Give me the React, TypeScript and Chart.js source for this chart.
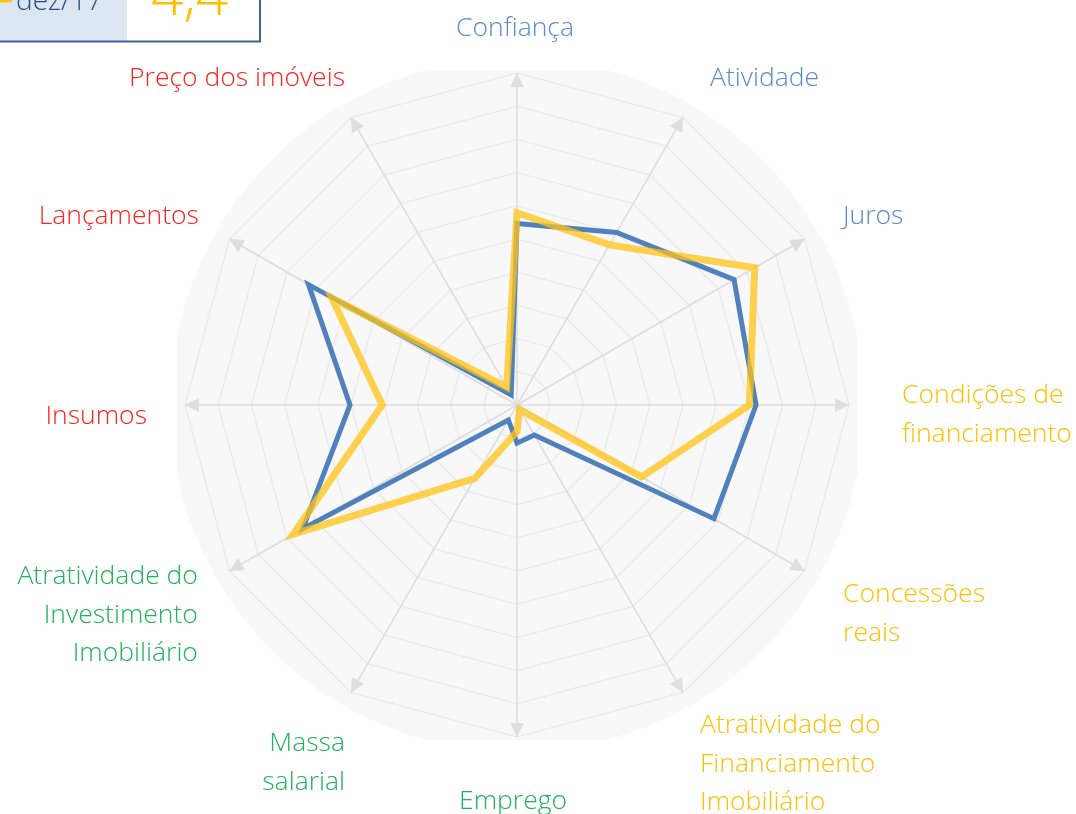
import React, { useEffect, useRef } from "react";
import { Chart, registerables } from "chart.js";

Chart.register(...registerables);

// ---- data ----
const CATEGORIES: string[][] = [
  ["Confiança"],
  ["Atividade"],
  ["Juros"],
  ["Condições de", "financiamento"],
  ["Concessões", "reais"],
  ["Atratividade do", "Financiamento", "Imobiliário"],
  ["Emprego"],
  ["Massa", "salarial"],
  ["Atratividade do", "Investimento", "Imobiliário"],
  ["Insumos"],
  ["Lançamentos"],
  ["Preço dos imóveis"],
];
const CATEGORY_GROUP: string[] = [
  "mercado", "mercado", "mercado",
  "credito", "credito", "credito",
  "renda", "renda", "renda",
  "custos", "custos", "custos",
];
const SERIES_PREV_LABEL = "dez/16";
const SERIES_PREV: number[] = [5.47, 6.0, 7.55, 7.2, 6.85, 1.04, 1.15, 0.52, 7.45, 5.03, 7.25, 0.35];
const SERIES_CURR_LABEL = "dez/17";
const SERIES_CURR: number[] = [5.79, 5.57, 8.27, 7.0, 4.33, 0.16, 0.8, 2.55, 7.78, 4.06, 6.44, 0.62];
const CURR_INDEX_VALUE = "4,4";
const SCALE_MAX = 10;
const SCALE_STEP = 1;

// ---- styles ----
const GROUP_COLORS: Record<string, string> = {
  mercado: "#5b8bc8",
  credito: "#ffc000",
  renda: "#1fb35a",
  custos: "#ff2020",
};
const BLUE = "#4f81bd";
const YELLOW = "rgba(255,195,20,0.75)";
const FONT = "'Open Sans', 'Noto Sans', sans-serif";

// label placement nudges (px) relative to a point 380px from the centre along each axis
const LABEL_DIST = 380;
const LABEL_NUDGE: [number, number][] = [
  [-2, 3], [3, 3], [-3, 1], [5, 10], [-3, 19], [-7, 30],
  [-4, 16], [18, 29], [10, 20], [10, 11], [11, 1], [18, 3],
];

const backgroundPlugin = {
  id: "radarBackground",
  beforeDraw(chart: any) {
    const s = chart.scales.r;
    const ctx = chart.ctx;
    const cx = s.xCenter, cy = s.yCenter, R = s.drawingArea;
    ctx.save();
    ctx.beginPath();
    ctx.rect(cx - R - 8, cy - R - 3, 2 * R + 16, 2 * R + 6);
    ctx.clip();
    ctx.beginPath();
    ctx.arc(cx, cy, R + 15, 0, Math.PI * 2);
    ctx.fillStyle = "#f8f8f8";
    ctx.fill();
    ctx.restore();
  },
};

const arrowPlugin = {
  id: "axisArrows",
  beforeDatasetsDraw(chart: any) {
    const s = chart.scales.r;
    const ctx = chart.ctx;
    const R = s.drawingArea;
    const n = chart.data.labels.length;
    ctx.save();
    ctx.fillStyle = "#dedede";
    for (let i = 0; i < n; i++) {
      const a = s.getIndexAngle(i) - Math.PI / 2;
      const tip = s.getPointPosition(i, R);
      const bx = tip.x - Math.cos(a) * 14;
      const by = tip.y - Math.sin(a) * 14;
      const px = -Math.sin(a) * 7;
      const py = Math.cos(a) * 7;
      ctx.beginPath();
      ctx.moveTo(tip.x, tip.y);
      ctx.lineTo(bx + px, by + py);
      ctx.lineTo(bx - px, by - py);
      ctx.closePath();
      ctx.fill();
    }
    ctx.restore();
  },
};

const labelPlugin = {
  id: "axisLabels",
  afterDraw(chart: any) {
    const s = chart.scales.r;
    const ctx = chart.ctx;
    const labels: string[][] = chart.data.labels;
    const lineH = 38.5;
    ctx.save();
    ctx.font = `300 26.5px ${FONT}`;
    ctx.textBaseline = "middle";
    labels.forEach((lines, i) => {
      const p = s.getPointPosition(i, LABEL_DIST);
      const a = s.getIndexAngle(i);
      const sx = Math.sin(a);
      const x = p.x + LABEL_NUDGE[i][0];
      const yMid = p.y + LABEL_NUDGE[i][1];
      ctx.textAlign = sx > 0.1 ? "left" : sx < -0.1 ? "right" : "center";
      ctx.fillStyle = GROUP_COLORS[CATEGORY_GROUP[i]];
      const top = yMid - ((lines.length - 1) * lineH) / 2;
      lines.forEach((ln, k) => ctx.fillText(ln, x, top + k * lineH));
    });

    // legend box (top-left, partially cut off)
    ctx.fillStyle = "#dce6f2";
    ctx.fillRect(0, 0, 127, 41);
    ctx.strokeStyle = "#44629a";
    ctx.lineWidth = 2;
    ctx.beginPath();
    ctx.moveTo(0, 41.5);
    ctx.lineTo(260, 41.5);
    ctx.lineTo(260, 0);
    ctx.stroke();
    ctx.strokeStyle = "#ffc000";
    ctx.lineWidth = 7;
    ctx.lineCap = "round";
    ctx.beginPath();
    ctx.moveTo(-10, -1);
    ctx.lineTo(9, -1);
    ctx.stroke();
    ctx.textAlign = "left";
    ctx.textBaseline = "alphabetic";
    ctx.fillStyle = "#2e4d80";
    ctx.font = `300 28px ${FONT}`;
    ctx.fillText(SERIES_CURR_LABEL, 16, 10);
    ctx.fillStyle = "#ffc000";
    ctx.font = `300 57px ${FONT}`;
    ctx.fillText(CURR_INDEX_VALUE, 151, 15);
    ctx.restore();
  },
};

export default function App() {
  const ref = useRef<HTMLCanvasElement | null>(null);
  useEffect(() => {
    if (!ref.current) return;
    const chart = new Chart(ref.current, {
      type: "radar",
      data: {
        labels: CATEGORIES as any,
        datasets: [
          {
            label: SERIES_PREV_LABEL,
            data: SERIES_PREV,
            borderColor: BLUE,
            borderWidth: 5,
            backgroundColor: "transparent",
            fill: false,
            pointRadius: 0,
            borderJoinStyle: "miter",
            order: 1,
          },
          {
            label: SERIES_CURR_LABEL,
            data: SERIES_CURR,
            borderColor: YELLOW,
            borderWidth: 7,
            backgroundColor: "transparent",
            fill: false,
            pointRadius: 0,
            borderJoinStyle: "miter",
            order: 0,
          },
        ],
      },
      options: {
        responsive: false,
        animation: false,
        devicePixelRatio: 1,
        layout: { padding: { top: 73, bottom: 77, left: 100, right: 142 } },
        plugins: { legend: { display: false }, tooltip: { enabled: false } },
        elements: { line: { tension: 0 } },
        scales: {
          r: {
            min: 0,
            max: SCALE_MAX,
            ticks: { display: false, stepSize: SCALE_STEP },
            grid: { color: "#ebebeb", lineWidth: 1.5, circular: false },
            angleLines: { color: "#dcdcdc", lineWidth: 1.5 },
            pointLabels: { display: false },
          },
        },
      },
      plugins: [backgroundPlugin, arrowPlugin, labelPlugin],
    });
    return () => chart.destroy();
  }, []);
  return (
    <div style={{ position: "absolute", left: 0, top: 0, width: 1076, height: 814 }}>
      <canvas ref={ref} width={1076} height={814} />
    </div>
  );
}
